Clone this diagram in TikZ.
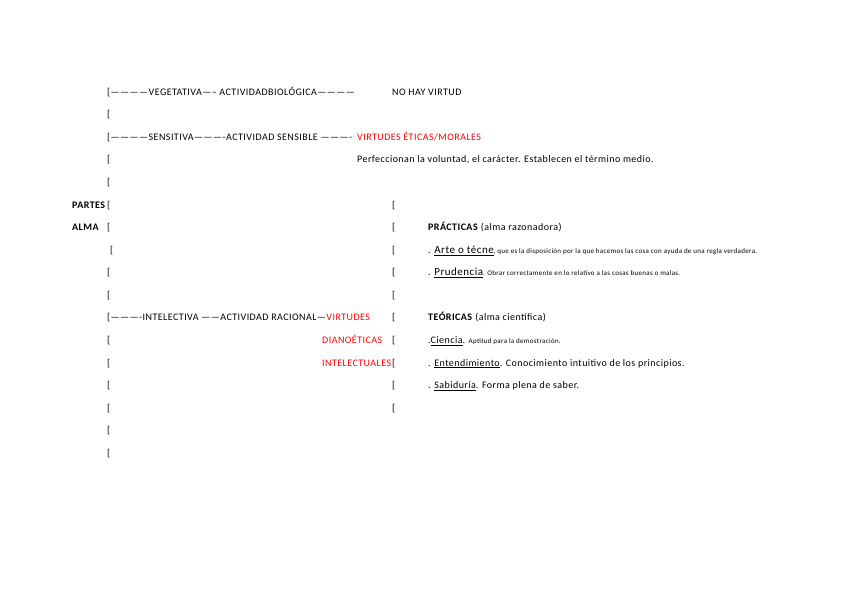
\documentclass[tikz,border=0pt]{standalone}
\usepackage{fontspec}
\setmainfont[LetterSpace=4.5]{Carlito}
\newcommand{\chico}{\fontsize{7}{8}\selectfont}
\newcommand{\grande}{\fontsize{11}{13}\selectfont}
\begin{document}
\begin{tikzpicture}[x=1pt,y=-1pt,
  txt/.style={anchor=base west,inner sep=0pt,font=\fontsize{10}{12}\selectfont},
  rojo/.style={txt,text=red}]
\useasboundingbox (0,0) rectangle (848,599);
% corchetes
\foreach \i in {0,1,2,3,4,5,6,8,9,10,11,12,13,14,15,16}
  \node[txt] (izq\i) at (107,{95.3+22.56*\i}) {[};
\node[txt] (izq7) at (110,{95.3+22.56*7}) {[};
\foreach \i in {5,...,14}
  \node[txt] (der\i) at (392,{95.3+22.56*\i}) {[};
\node[txt,font=\fontsize{10}{12}\selectfont\bfseries] (partes) at (72,{95.3+22.56*5}) {PARTES};
\node[txt,font=\fontsize{10}{12}\selectfont\bfseries] (alma) at (72,{95.3+22.56*6}) {ALMA};
% partes del alma
\node[txt] (veg) at (110.5,95.3) {————VEGETATIVA—– ACTIVIDADBIOLÓGICA————};
\node[txt] (nohay) at (392,95.3) {NO HAY VIRTUD};
\node[txt] (sen) at (110.5,{95.3+22.56*2}) {————SENSITIVA———-ACTIVIDAD SENSIBLE ———-};
\node[rojo] (eticas) at (357,{95.3+22.56*2}) {VIRTUDES ÉTICAS/MORALES};
\node[txt] (perf) at (357,{95.3+22.56*3}) {Perfeccionan la voluntad, el carácter. Establecen el término medio.};
\node[txt] (intel) at (110.5,{95.3+22.56*10}) {———-INTELECTIVA ——ACTIVIDAD RACIONAL—};
\node[rojo] (virt) at (intel.base east) {VIRTUDES};
\node[rojo] (dian) at (322,{95.3+22.56*11}) {DIANOÉTICAS};
\node[rojo] (intelec) at (322,{95.3+22.56*12}) {INTELECTUALES};
% virtudes dianoeticas
\node[txt] (prac) at (428,{95.3+22.56*6}) {\textbf{PRÁCTICAS} (alma razonadora)};
\node[txt] (arte) at (428,{95.3+22.56*7}) {. {\grande\underline{Arte o técne}}{\chico, que es la disposición por la que hacemos las cosa con ayuda de una regla verdadera.}};
\node[txt] (prud) at (428,{95.3+22.56*8}) {. {\grande\underline{Prudencia}}{\chico. Obrar correctamente en lo relativo a las cosas buenas o malas.}};
\node[txt] (teor) at (428,{95.3+22.56*10}) {\textbf{TEÓRICAS} (alma científica)};
\node[txt] (ciencia) at (428,{95.3+22.56*11}) {.\underline{Ciencia}. {\chico Aptitud para la demostración.}};
\node[txt] (enten) at (428,{95.3+22.56*12}) {. \underline{Entendimiento}. Conocimiento intuitivo de los principios.};
\node[txt] (sabid) at (428,{95.3+22.56*13}) {. \underline{Sabiduría}. Forma plena de saber.};
\end{tikzpicture}
\end{document}
